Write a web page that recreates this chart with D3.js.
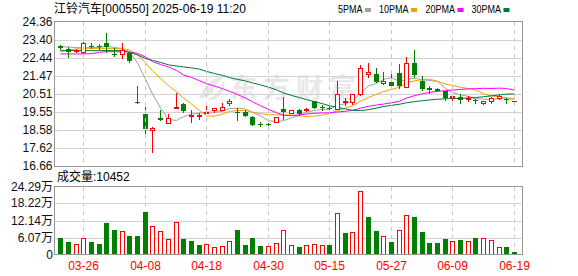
<!DOCTYPE html>
<html>
<head>
<meta charset="utf-8">
<script src="https://cdn.jsdelivr.net/npm/d3@7"></script>
<style>
body{margin:0;background:#fff;}
text{font-family:"Liberation Sans",Arial,"Noto Sans CJK SC",sans-serif;font-size:12px;}
</style>
</head>
<body>
<svg id="chart" width="578" height="276"></svg>
<script>
//data
var dates = ["03-21","03-24","03-25","03-26","03-27","03-28","03-31","04-01","04-02","04-03",
  "04-07","04-08","04-09","04-10","04-11","04-14","04-15","04-16","04-17","04-18",
  "04-21","04-22","04-23","04-24","04-25","04-28","04-29","04-30","05-06","05-07",
  "05-08","05-09","05-12","05-13","05-14","05-15","05-16","05-19","05-20","05-21",
  "05-22","05-23","05-26","05-27","05-28","05-29","05-30","06-03","06-04","06-05",
  "06-06","06-09","06-10","06-11","06-12","06-13","06-16","06-17","06-18","06-19"];

var opens = [23.06,22.90,22.79,22.72,23.08,23.07,23.20,22.64,22.62,22.70,
  20.08,19.44,18.59,19.21,18.95,19.76,19.96,19.36,19.31,19.50,
  19.62,19.65,20.01,19.56,19.56,19.27,18.88,18.88,19.00,19.70,
  19.48,19.66,19.62,20.13,19.83,19.77,19.70,20.06,20.06,20.50,
  21.55,21.55,21.08,21.11,21.60,20.86,22.17,21.21,20.81,20.76,
  20.63,20.34,20.36,20.22,20.19,20.01,20.15,20.27,20.25,20.12];
var highs = [23.10,22.99,22.87,23.38,23.20,23.16,23.73,22.93,23.20,22.76,
  20.93,19.83,18.73,19.62,19.44,20.54,20.04,19.65,19.51,19.92,
  19.76,20.04,20.22,19.74,19.65,19.33,18.98,18.95,19.28,20.36,
  19.66,19.70,19.74,20.14,19.92,19.87,21.21,20.27,20.52,22.05,
  22.14,21.87,21.66,21.60,22.08,22.49,22.84,21.46,20.93,20.84,
  20.64,20.37,20.49,20.40,20.22,20.11,20.36,20.45,20.27,20.12];
var lows = [22.90,22.49,22.76,22.62,22.93,22.92,22.72,22.53,22.40,22.22,
  20.02,18.27,17.38,19.11,18.94,19.76,19.53,19.03,19.17,19.46,
  19.55,19.64,19.92,19.12,19.30,18.82,18.77,18.77,18.99,19.15,
  19.47,19.40,19.58,19.74,19.65,19.65,19.68,19.92,19.94,20.45,
  21.42,21.11,21.02,20.84,20.84,20.86,21.42,20.72,20.57,20.64,
  20.20,20.19,20.04,20.15,20.04,19.96,20.01,20.22,20.04,20.09];
var closes = [22.93,22.76,22.84,23.20,23.05,23.04,23.02,22.60,22.84,22.27,
  20.04,18.63,18.71,19.12,19.21,19.80,19.60,19.40,19.36,19.55,
  19.74,19.80,20.15,19.48,19.33,18.86,18.82,18.85,19.27,19.54,
  19.65,19.44,19.70,19.76,19.79,19.74,20.50,20.10,20.50,21.87,
  21.66,21.16,21.20,20.90,20.93,22.14,21.51,20.77,20.73,20.68,
  20.28,20.37,20.19,20.31,20.10,20.11,20.31,20.41,20.22,20.10];

//volume in 万
var volumes = [5.96,4.64,3.82,5.84,4.29,3.82,11.42,8.82,8.46,6.43,
  6.43,15.35,10.25,8.46,5.60,11.67,5.60,4.89,3.46,3.82,
  2.75,3.00,4.89,8.82,3.46,5.96,3.10,3.00,4.07,8.71,
  3.36,2.80,3.36,3.71,3.36,3.46,14.78,7.85,8.00,22.63,
  13.46,8.46,6.57,4.53,8.82,14.17,13.46,8.10,4.18,4.18,
  5.60,4.89,5.25,4.89,5.96,5.84,5.25,2.75,2.75,1.0452];

var ma5 = [23.02,23.00,22.97,22.96,22.96,22.98,23.03,22.98,22.91,22.75,
  22.15,21.28,20.50,19.75,19.14,19.09,19.29,19.43,19.47,19.54,
  19.53,19.57,19.72,19.74,19.70,19.52,19.33,19.07,19.03,19.07,
  19.23,19.35,19.52,19.62,19.67,19.69,19.90,19.98,20.13,20.54,
  20.93,21.06,21.28,21.36,21.17,21.27,21.34,21.25,21.22,21.17,
  20.79,20.57,20.45,20.37,20.25,20.22,20.20,20.25,20.23,20.23];
var ma10 = [22.76,22.84,22.90,22.92,22.93,22.93,22.93,22.92,22.90,22.86,
  22.57,22.15,21.74,21.33,20.95,20.62,20.28,19.96,19.61,19.34,
  19.31,19.43,19.57,19.61,19.62,19.53,19.45,19.39,19.39,19.38,
  19.38,19.34,19.29,19.32,19.37,19.46,19.62,19.75,19.87,20.11,
  20.31,20.48,20.63,20.74,20.86,21.10,21.20,21.26,21.29,21.17,
  21.03,20.95,20.85,20.79,20.71,20.51,20.39,20.35,20.30,20.24];
var ma20 = [22.63,22.63,22.63,22.63,22.65,22.72,22.75,22.75,22.75,22.74,
  22.66,22.47,22.22,22.07,21.94,21.75,21.51,21.38,21.20,21.05,
  20.92,20.78,20.64,20.47,20.28,20.08,19.87,19.68,19.50,19.36,
  19.34,19.38,19.43,19.47,19.49,19.49,19.54,19.57,19.63,19.74,
  19.84,19.91,19.96,20.03,20.11,20.28,20.41,20.51,20.58,20.64,
  20.67,20.71,20.74,20.77,20.78,20.80,20.79,20.81,20.79,20.70];
var ma30 = [22.81,22.81,22.81,22.81,22.81,22.81,22.81,22.81,22.81,22.71,
  22.58,22.39,22.29,22.18,22.05,21.99,21.94,21.89,21.82,21.70,
  21.59,21.49,21.37,21.28,21.19,21.09,20.98,20.86,20.72,20.55,
  20.42,20.31,20.20,20.09,19.98,19.87,19.79,19.70,19.62,19.61,
  19.66,19.75,19.83,19.89,19.95,20.03,20.09,20.14,20.18,20.22,
  20.24,20.26,20.26,20.29,20.31,20.35,20.40,20.45,20.49,20.50];

var priceTicks = [24.36,23.40,22.44,21.47,20.51,19.55,18.58,17.62,16.66];
var volTicks = [0,6.07,12.14,18.22,24.29];
var dateTicks = ["03-26","04-08","04-18","04-30","05-15","05-27","06-09","06-19"];

var maNames = ["5PMA","10PMA","20PMA","30PMA"];
var maColors = ["#a0a0a0","#f5a200","#ff00ff","#00773a"];

var RED = "#ff0000", GREEN = "#008000";

var svg = d3.select("#chart");
svg.append("rect").attr("width",578).attr("height",276).attr("fill","#fff");

//scales
var x = d3.scaleBand().domain(dates).range([56.3, 517.8]).paddingInner(0.3).paddingOuter(0.15);
var y = d3.scaleLinear().domain([16.66, 24.36]).range([166, 21.5]);
var yv = d3.scaleLinear().domain([0, 24.29]).range([254.5, 186.5]);

function cx(d){ return Math.round(x(d) + x.bandwidth()/2); }
function px(v){ return Math.round(v) + 0.5; }

var data = dates.map(function(d,i){
  return {date:d, o:opens[i], h:highs[i], l:lows[i], c:closes[i], v:volumes[i],
    up: closes[i] >= opens[i],
    volUp: i == 0 ? closes[i] >= opens[i] : closes[i] >= closes[i-1]};
});

// ---------- header ----------
var title = svg.append("text").attr("x",54).attr("y",13).attr("fill","#000");
title.append("tspan").text("江铃汽车");
title.append("tspan").text("[000550] 2025-06-19 11:20");

var lg = svg.append("g");
var lgX = [338, 379, 425.5, 471.5];
var lgW = [24.5, 29.5, 29.5, 29.5];
maNames.forEach(function(n,i){
  lg.append("text").attr("x",lgX[i]).attr("y",13).attr("fill","#000")
    .attr("textLength",lgW[i]).attr("lengthAdjust","spacingAndGlyphs")
    .style("font-size","11px").text(n);
  lg.append("rect").attr("x",lgX[i]+lgW[i]+2.5).attr("y",8).attr("width",6).attr("height",4)
    .attr("fill",maColors[i]);
});

// ---------- price pane ----------
var g = svg.append("g");

//watermark
var wm = g.append("g").attr("fill","#e8e8e8");
wm.append("path").attr("d","M199,99 C203,86 212,77 228,74 C219,80 214,87 212,94 C209,96 204,98 199,99 Z");
wm.append("path").attr("d","M206,100 C214,97 221,90 224,80 C226,88 222,96 214,100 Z");
wm.append("text").attr("x",230).attr("y",98).style("font-size","27px").style("font-weight","bold")
  .style("letter-spacing","6px").text("东方财富");

//horizontal grid
g.selectAll(".hgrid").data(priceTicks.slice(1,-1)).enter().append("line")
  .attr("x1",55).attr("x2",522)
  .attr("y1",function(d){ return px(y(d)); }).attr("y2",function(d){ return px(y(d)); })
  .attr("stroke","#d2d2d2");

//vertical dashed grid, both panes
dateTicks.forEach(function(d){
  svg.append("line").attr("x1",cx(d)+0.5).attr("x2",cx(d)+0.5).attr("y1",22).attr("y2",166)
    .attr("stroke","#c8c8c8").attr("stroke-dasharray","4,4");
  svg.append("line").attr("x1",cx(d)+0.5).attr("x2",cx(d)+0.5).attr("y1",187).attr("y2",254)
    .attr("stroke","#c8c8c8").attr("stroke-dasharray","4,4");
});

g.selectAll(".ptick").data(priceTicks).enter().append("text")
  .attr("x",52.5).attr("y",function(d){ return y(d); })
  .attr("text-anchor","end").attr("dominant-baseline","central").attr("fill","#111")
  .text(function(d){ return d.toFixed(2); });

//MA lines
[ma5, ma10, ma20, ma30].forEach(function(arr,k){
  var line = d3.line()
    .x(function(d,i){ return cx(dates[i]) + 0.5; })
    .y(function(d){ return y(d); });
  g.append("path").datum(arr).attr("d",line).attr("fill","none")
    .attr("stroke",maColors[k]).attr("stroke-width",1);
});

//candles
var candle = g.selectAll(".candle").data(data).enter().append("g").attr("class","candle");
candle.append("line")
  .attr("x1",function(d){ return cx(d.date)+0.5; }).attr("x2",function(d){ return cx(d.date)+0.5; })
  .attr("y1",function(d){ return Math.round(y(d.h)); })
  .attr("y2",function(d){ return Math.round(y(d.l))+1; })
  .attr("stroke",function(d){ return d.up ? RED : GREEN; });
candle.append("rect")
  .attr("x",function(d){ return d.up ? cx(d.date)-1.5 : cx(d.date)-2; })
  .attr("y",function(d){
    var t = Math.round(y(Math.max(d.o,d.c)));
    return d.up ? t+0.5 : t; })
  .attr("width",function(d){ return d.up ? 4 : 5; })
  .attr("height",function(d){
    var h = Math.round(y(Math.min(d.o,d.c))) - Math.round(y(Math.max(d.o,d.c)));
    return Math.max(h,1); })
  .attr("fill",function(d){ return d.up ? "#fff" : GREEN; })
  .attr("stroke",function(d){ return d.up ? RED : "none"; });

//border
svg.append("rect").attr("x",54.5).attr("y",21.5).attr("width",468).attr("height",145)
  .attr("fill","none").attr("stroke","#999");

// ---------- volume pane ----------
svg.append("text").attr("x",57).attr("y",177).attr("dominant-baseline","central").attr("fill","#000")
  .text("成交量:" + Math.round(volumes[volumes.length-1]*10000));

var vg = svg.append("g");
vg.selectAll(".vgrid").data(volTicks.slice(1,-1)).enter().append("line")
  .attr("x1",55).attr("x2",522)
  .attr("y1",function(d){ return px(yv(d)); }).attr("y2",function(d){ return px(yv(d)); })
  .attr("stroke","#d2d2d2");

vg.selectAll(".vtick").data(volTicks).enter().append("text")
  .attr("x",53).attr("y",function(d){ return yv(d); })
  .attr("text-anchor","end").attr("dominant-baseline","central").attr("fill","#111")
  .text(function(d){ return d == 0 ? "0" : d.toFixed(2) + "万"; });

vg.selectAll(".vbar").data(data).enter().append("rect")
  .attr("x",function(d){ return d.volUp ? cx(d.date)-1.5 : cx(d.date)-2; })
  .attr("y",function(d){ return d.volUp ? Math.round(yv(d.v))+0.5 : Math.round(yv(d.v)); })
  .attr("width",function(d){ return d.volUp ? 4 : 5; })
  .attr("height",function(d){ return 254 - Math.round(yv(d.v)); })
  .attr("fill",function(d){ return d.volUp ? "#fff" : GREEN; })
  .attr("stroke",function(d){ return d.volUp ? RED : "none"; });

svg.append("rect").attr("x",54.5).attr("y",186.5).attr("width",468).attr("height",68)
  .attr("fill","none").attr("stroke","#999");

//date labels
svg.selectAll(".dlabel").data(dateTicks).enter().append("text")
  .attr("x",function(d){ return cx(d)+0.5; }).attr("y",266)
  .attr("text-anchor","middle").attr("dominant-baseline","central").attr("fill",RED)
  .text(function(d){ return d; });
</script>
</body>
</html>
